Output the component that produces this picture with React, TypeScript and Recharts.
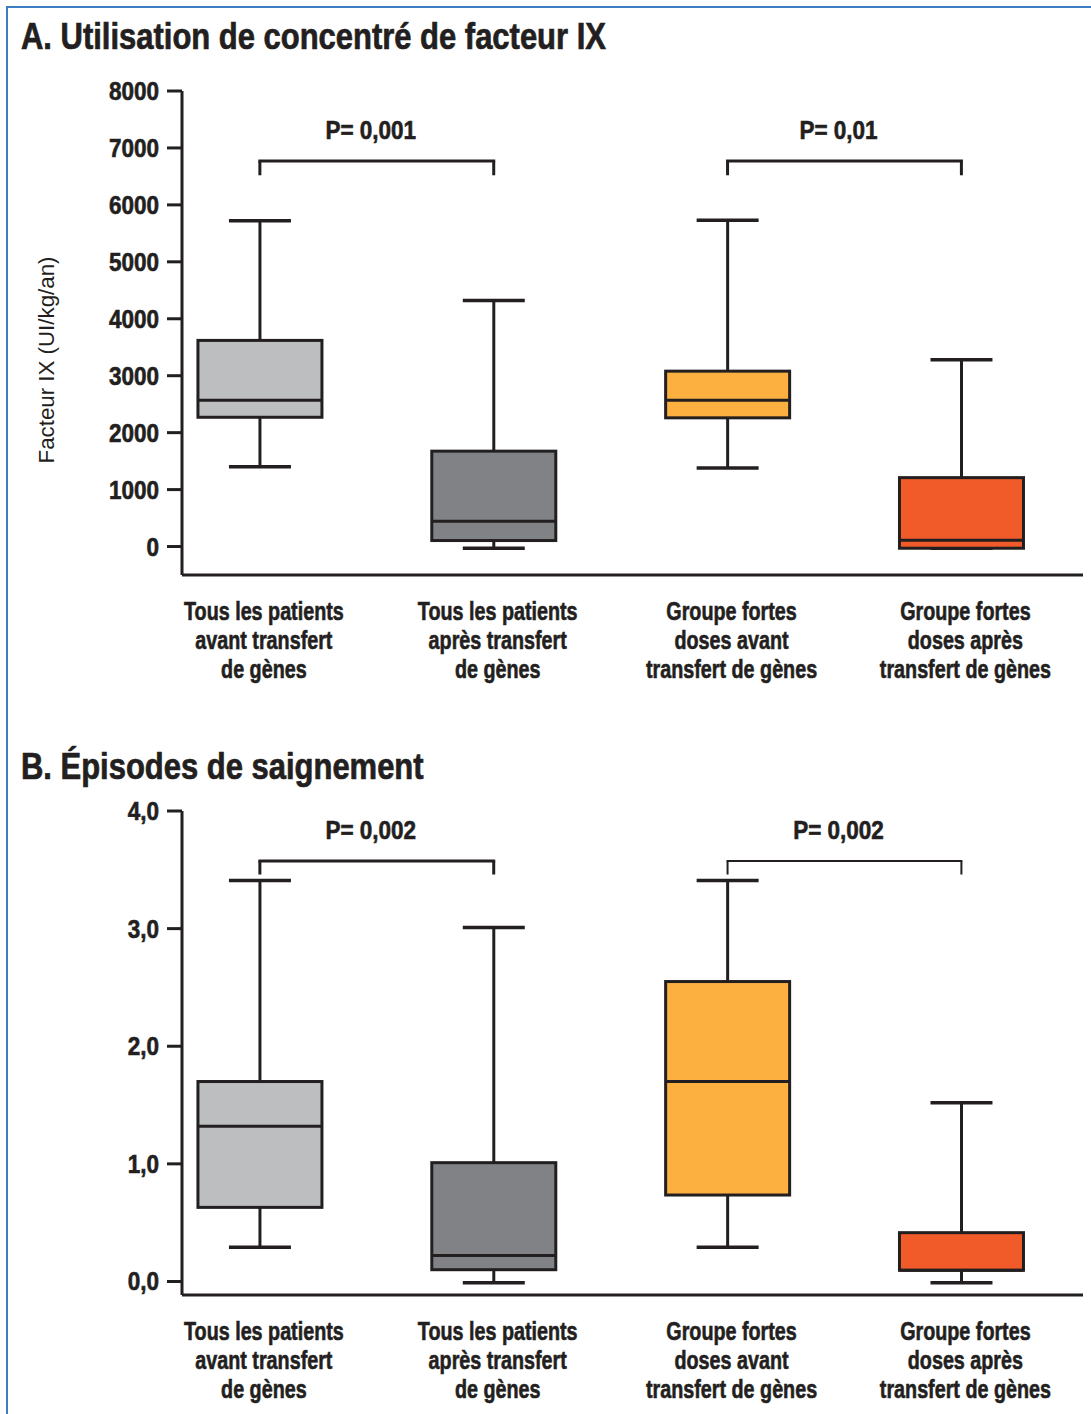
import React from 'react';
import { ComposedChart, Bar, XAxis, YAxis, ReferenceLine } from 'recharts';

// categories shared by both panels
const categories = [
  'Tous les patients\navant transfert\nde gènes',
  'Tous les patients\naprès transfert\nde gènes',
  'Groupe fortes\ndoses avant\ntransfert de gènes',
  'Groupe fortes\ndoses après\ntransfert de gènes',
];

// A. factor IX use (UI/kg/an)
const factorMin = [1400, -30, 1380, -30];
const factorQ1 = [2270, 105, 2260, -30];
const factorMedian = [2570, 445, 2570, 110];
const factorQ3 = [3620, 1675, 3080, 1210];
const factorMax = [5720, 4320, 5730, 3280];
const factorTicks = [0, 1000, 2000, 3000, 4000, 5000, 6000, 7000, 8000];
const factorP = ['P= 0,001', 'P= 0,01'];

// B. bleeding episodes
const bleedMin = [0.29, -0.01, 0.29, -0.01];
const bleedQ1 = [0.63, 0.1, 0.735, 0.095];
const bleedMedian = [1.32, 0.22, 1.7, 0.095];
const bleedQ3 = [1.7, 1.01, 2.55, 0.415];
const bleedMax = [3.41, 3.01, 3.41, 1.52];
const bleedTicks = [0, 1, 2, 3, 4];
const bleedP = ['P= 0,002', 'P= 0,002'];

const INK = '#231f20';
const FONT = '"Liberation Sans", Arial, sans-serif';
const boxFills = ['#bcbec0', '#808285', '#fbb040', '#f15a29'];

const build = (mn: number[], q1: number[], md: number[], q3: number[], mx: number[]) =>
  categories.map((name, i) => ({
    idx: i + 1,
    name,
    min: mn[i],
    q1: q1[i],
    median: md[i],
    q3: q3[i],
    max: mx[i],
  }));

const factorData = build(factorMin, factorQ1, factorMedian, factorQ3, factorMax);
const bleedData = build(bleedMin, bleedQ1, bleedMedian, bleedQ3, bleedMax);

// condensed look: squeeze a regular face horizontally
const SqText = ({ x, y, squeeze, anchor, size, weight = 700, children, dy, rotate }: any) => (
  <g transform={`translate(${x},${y})${rotate ? ` rotate(${rotate})` : ''} scale(${squeeze},1)`}>
    <text
      x={0}
      y={0}
      dy={dy}
      textAnchor={anchor}
      fill={INK}
      stroke={weight === 700 ? INK : 'none'}
      strokeWidth={0.6}
      fontFamily={FONT}
      fontWeight={weight}
      fontSize={size}
    >
      {children}
    </text>
  </g>
);

const BoxShape = (props: any) => {
  const { x, y, width, height, payload, index } = props;
  const { min, q1, median, q3, max } = payload;
  // linear map from value to pixel using the bar's own [min, max] extent
  const toY = (v: number) => y + (height * (max - v)) / (max - min);
  const cx = x + width / 2;
  const bw = 124;
  const cw = 62;
  return (
    <g>
      <line x1={cx} x2={cx} y1={toY(max)} y2={toY(q3)} stroke={INK} strokeWidth={3} />
      <line x1={cx} x2={cx} y1={toY(q1)} y2={toY(min)} stroke={INK} strokeWidth={3} />
      <line x1={cx - cw / 2} x2={cx + cw / 2} y1={toY(max)} y2={toY(max)} stroke={INK} strokeWidth={3.5} />
      <line x1={cx - cw / 2} x2={cx + cw / 2} y1={toY(min)} y2={toY(min)} stroke={INK} strokeWidth={3.5} />
      <rect
        x={cx - bw / 2}
        y={toY(q3)}
        width={bw}
        height={toY(q1) - toY(q3)}
        fill={boxFills[index]}
        stroke={INK}
        strokeWidth={3}
      />
      <line x1={cx - bw / 2} x2={cx + bw / 2} y1={toY(median)} y2={toY(median)} stroke={INK} strokeWidth={3} />
    </g>
  );
};

const CategoryTick = (props: any) => {
  const { x, y, payload } = props;
  const lines = categories[payload.value - 1].split('\n');
  return (
    <g>
      {lines.map((l, i) => (
        <SqText key={i} x={x + 4} y={y + 37 + i * 29} squeeze={0.79} anchor="middle" size={25}>
          {l}
        </SqText>
      ))}
    </g>
  );
};

const makeYTick = (fmt: (v: number) => string) => (props: any) => {
  const { x, y, payload } = props;
  return (
    <SqText x={x} y={y} dy="0.36em" squeeze={0.9} anchor="end" size={25}>
      {fmt(payload.value)}
    </SqText>
  );
};

const PLabel = (props: any) => {
  const vb = props.viewBox;
  return (
    <SqText x={vb.x + vb.width / 2 - 6} y={vb.y - 22} squeeze={0.9} anchor="middle" size={25}>
      {props.text}
    </SqText>
  );
};

interface BracketProps {
  from: number;
  to: number;
  top: number;
  bottom: number;
  text: string;
  width: number;
}

// bracket drawn with three reference segments
const bracket = ({ from, to, top, bottom, text, width }: BracketProps, key: string) => [
  <ReferenceLine
    key={key + 'l'}
    segment={[{ x: from, y: bottom }, { x: from, y: top }]}
    stroke={INK}
    strokeWidth={width}
  />,
  <ReferenceLine
    key={key + 'h'}
    segment={[{ x: from, y: top }, { x: to, y: top }]}
    stroke={INK}
    strokeWidth={width}
    strokeLinecap="square"
    label={<PLabel text={text} />}
  />,
  <ReferenceLine
    key={key + 'r'}
    segment={[{ x: to, y: top }, { x: to, y: bottom }]}
    stroke={INK}
    strokeWidth={width}
  />,
];

const YLabel = (props: any) => {
  const vb = props.viewBox;
  return (
    <SqText
      x={vb.x + 46}
      y={vb.y + vb.height / 2 + 27}
      dy="0.36em"
      rotate={-90}
      squeeze={0.97}
      anchor="middle"
      size={23}
      weight={400}
    >
      Facteur IX (UI/kg/an)
    </SqText>
  );
};

interface PanelProps {
  data: any[];
  domain: [number, number];
  ticks: number[];
  fmt: (v: number) => string;
  brackets: BracketProps[];
  withLabel?: boolean;
}

const Panel = ({ data, domain, ticks, fmt, brackets, withLabel }: PanelProps) => (
  <ComposedChart width={1091} height={700} data={data} margin={{ top: 91, right: 8, bottom: 0, left: 0 }}>
    <XAxis
      type="number"
      dataKey="idx"
      domain={[0.667, 4.52]}
      ticks={[1, 2, 3, 4]}
      interval={0}
      allowDataOverflow
      height={125}
      tickLine={false}
      tick={<CategoryTick />}
      axisLine={{ stroke: INK, strokeWidth: 3 }}
    />
    <YAxis
      type="number"
      domain={domain}
      ticks={ticks}
      allowDataOverflow
      width={182}
      tickSize={15}
      tickMargin={8}
      tick={makeYTick(fmt)}
      tickLine={{ stroke: INK, strokeWidth: 3 }}
      axisLine={{ stroke: INK, strokeWidth: 3 }}
      label={withLabel ? <YLabel /> : undefined}
    />
    <Bar dataKey={(d: any) => [d.min, d.max]} shape={BoxShape} barSize={124} isAnimationActive={false} />
    {brackets.flatMap((b, i) => bracket(b, 'b' + i))}
  </ComposedChart>
);

const titleStyle: React.CSSProperties = {
  position: 'absolute',
  left: 21,
  fontFamily: FONT,
  fontWeight: 700,
  fontSize: 36,
  lineHeight: '36px',
  color: INK,
  whiteSpace: 'nowrap',
  transform: 'scaleX(0.86)',
  transformOrigin: '0 0',
  WebkitTextStroke: '0.7px ' + INK,
};

export default function App() {
  return (
    <div style={{ position: 'absolute', left: 0, top: 0, width: 1091, height: 1414, overflow: 'hidden', background: '#fff' }}>
      <div
        style={{
          position: 'absolute',
          left: 6,
          top: 6,
          width: 1200,
          height: 1500,
          borderTop: '2px solid #3b7cc4',
          borderLeft: '2px solid #3b7cc4',
        }}
      />
      <div style={{ ...titleStyle, top: 19 }}>A. Utilisation de concentré de facteur IX</div>
      <div style={{ ...titleStyle, top: 749 }}>B. Épisodes de saignement</div>
      <div style={{ position: 'absolute', left: 0, top: 0 }}>
        <Panel
          data={factorData}
          domain={[-500, 8000]}
          ticks={factorTicks}
          fmt={(v) => String(v)}
          withLabel
          brackets={[
            { from: 1, to: 2, top: 6770, bottom: 6520, text: factorP[0], width: 3 },
            { from: 3, to: 4, top: 6770, bottom: 6520, text: factorP[1], width: 3 },
          ]}
        />
      </div>
      <div style={{ position: 'absolute', left: 0, top: 720 }}>
        <Panel
          data={bleedData}
          domain={[-0.115, 4]}
          ticks={bleedTicks}
          fmt={(v) => v.toFixed(1).replace('.', ',')}
          brackets={[
            { from: 1, to: 2, top: 3.574, bottom: 3.46, text: bleedP[0], width: 3 },
            { from: 3, to: 4, top: 3.574, bottom: 3.46, text: bleedP[1], width: 2 },
          ]}
        />
      </div>
    </div>
  );
}
